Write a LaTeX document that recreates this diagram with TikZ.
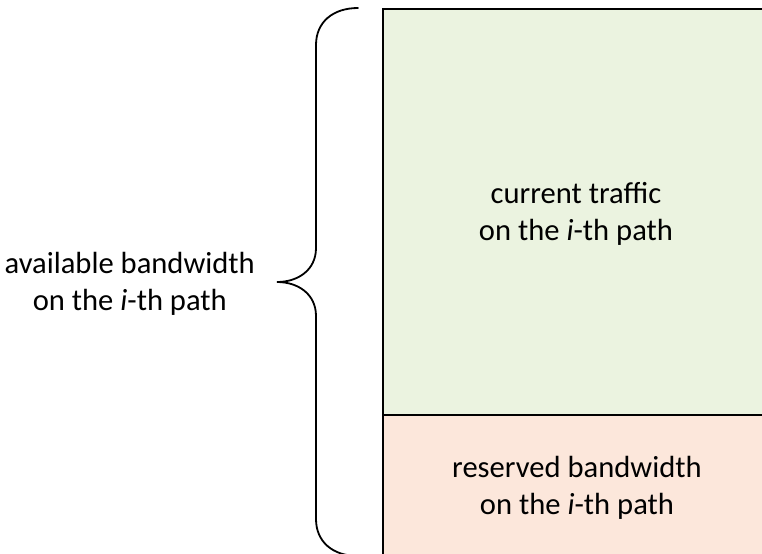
\documentclass[tikz,border=0pt]{standalone}
\usepackage{fontspec}
\setmainfont{Carlito}
\usepackage{tikz}
\usetikzlibrary{positioning}
\definecolor{trafficgreen}{RGB}{235,243,224}
\definecolor{reservedpink}{RGB}{252,231,219}
\tikzset{every node/.style={font=\fontsize{15.3}{18.5}\selectfont, align=center},
band/.style={draw=black, line width=0.8pt},
brace/.style={draw=black, line width=0.9pt, line cap=round}
}

\begin{document}
\begin{tikzpicture}[x=0.5pt, y=-0.5pt]
          \useasboundingbox (0,0) rectangle (762,553);
          \clip (0,0) rectangle (762,553);
          \path[band, fill=trafficgreen] (383,9) rectangle (780,415);
          \path[band, fill=reservedpink] (383,415) rectangle (780,580);

          \node (traffic)  at (576,214) {current traffic\\on the \textit{i}-th path};
          \node (reserved) at (577,488) {reserved bandwidth\\on the \textit{i}-th path};

          \coordinate (top) at (358,8);
          \coordinate (tip) at (277,282);
          \coordinate (bot) at (358,556);
          \node (avail) [left =7.5pt of tip, anchor=east, yshift=-1pt] {available bandwidth\\on the \textit{i}-th path};

          \path[brace] (top) .. controls (333,8) and (316,22) .. (316,45)
                    -- (316,248) .. controls (316,270) and (298,282) .. (tip)
                    .. controls (298,282) and (316,294) .. (316,316)
                    -- (316,519) .. controls (316,542) and (333,556) .. (bot);
        \end{tikzpicture}
\end{document}
